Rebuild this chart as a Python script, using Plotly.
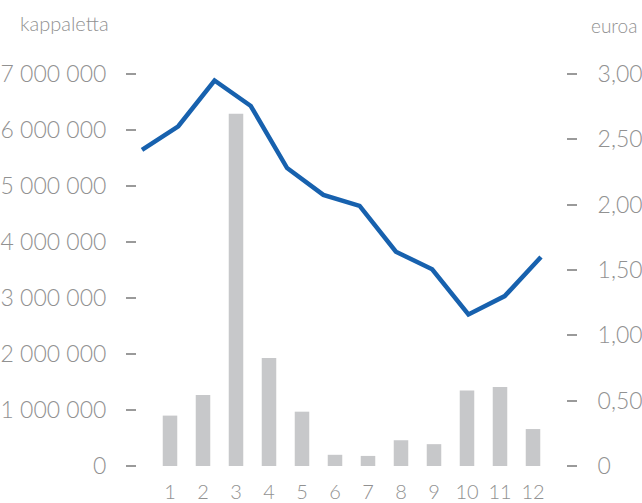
import plotly.graph_objects as go

months = list(range(1, 13))
month_labels = [str(m) for m in months]
pieces = [900000, 1270000, 6290000, 1930000, 970000, 200000,
          180000, 460000, 390000, 1350000, 1410000, 660000]
price = [2.42, 2.60, 2.95, 2.755, 2.28, 2.075,
         1.99, 1.64, 1.505, 1.16, 1.30, 1.60]

left_ticks = [0, 1000000, 2000000, 3000000, 4000000, 5000000, 6000000, 7000000]
left_labels = ["0", "1 000 000", "2 000 000", "3 000 000", "4 000 000",
               "5 000 000", "6 000 000", "7 000 000"]
right_ticks = [0, 0.5, 1.0, 1.5, 2.0, 2.5, 3.0]
right_labels = ["0", "0,50", "1,00", "1,50", "2,00", "2,50", "3,00"]

GREY_TEXT = "#919191"
FONT = "Lato"

fig = go.Figure()
fig.add_trace(go.Bar(x=months, y=pieces, marker=dict(color="#c7c8ca", line=dict(width=0)),
                     width=0.44, xaxis="x", yaxis="y", showlegend=False))
fig.add_trace(go.Scatter(x=months, y=price, mode="lines",
                         line=dict(color="#1761ae", width=4.5),
                         xaxis="x2", yaxis="y2", showlegend=False, cliponaxis=False))

fig.update_layout(
    width=642, height=503,
    margin=dict(l=137, r=76, t=74, b=37, autoexpand=False),
    paper_bgcolor="white", plot_bgcolor="white",
    font=dict(family=FONT, color=GREY_TEXT, size=19, weight=300),
    xaxis=dict(range=[0, 13], tickvals=months, ticktext=month_labels,
               showgrid=False, zeroline=False, showline=False, ticks="",
               ticklabelstandoff=12, tickfont=dict(size=20, color=GREY_TEXT, family=FONT, weight=300)),
    xaxis2=dict(range=[0.862, 12.69], overlaying="x", visible=False),
    yaxis=dict(range=[0, 7000000], tickvals=left_ticks, ticktext=left_labels,
               showgrid=False, zeroline=False, showline=False,
               ticks="outside", ticklen=10, tickwidth=2, tickcolor="#9a9a9a",
               ticklabelstandoff=15, tickfont=dict(size=23, color=GREY_TEXT, family=FONT, weight=300)),
    yaxis2=dict(range=[0, 3], tickvals=right_ticks, ticktext=right_labels,
                overlaying="y", side="right",
                showgrid=False, zeroline=False, showline=False,
                ticks="outside", ticklen=10, tickwidth=2, tickcolor="#9a9a9a",
                ticklabelstandoff=16, tickfont=dict(size=23, color=GREY_TEXT, family=FONT, weight=300)),
    bargap=0.5,
)

fig.add_annotation(text="kappaletta", xref="paper", yref="paper", x=-137/429 + 18/429, y=1 + (74 - 23) / 392,
                   xanchor="left", yanchor="middle", showarrow=False,
                   font=dict(size=20, color=GREY_TEXT, family=FONT, weight=300))
fig.add_annotation(text="euroa", xref="paper", yref="paper", x=1 + (639 - 566) / 429, y=1 + (74 - 25) / 392,
                   xanchor="right", yanchor="middle", showarrow=False,
                   font=dict(size=19, color=GREY_TEXT, family=FONT, weight=300))

fig.write_html("out.html", config={"displayModeBar": False},
               post_script="document.body.style.margin='0';document.body.style.overflow='hidden';")
